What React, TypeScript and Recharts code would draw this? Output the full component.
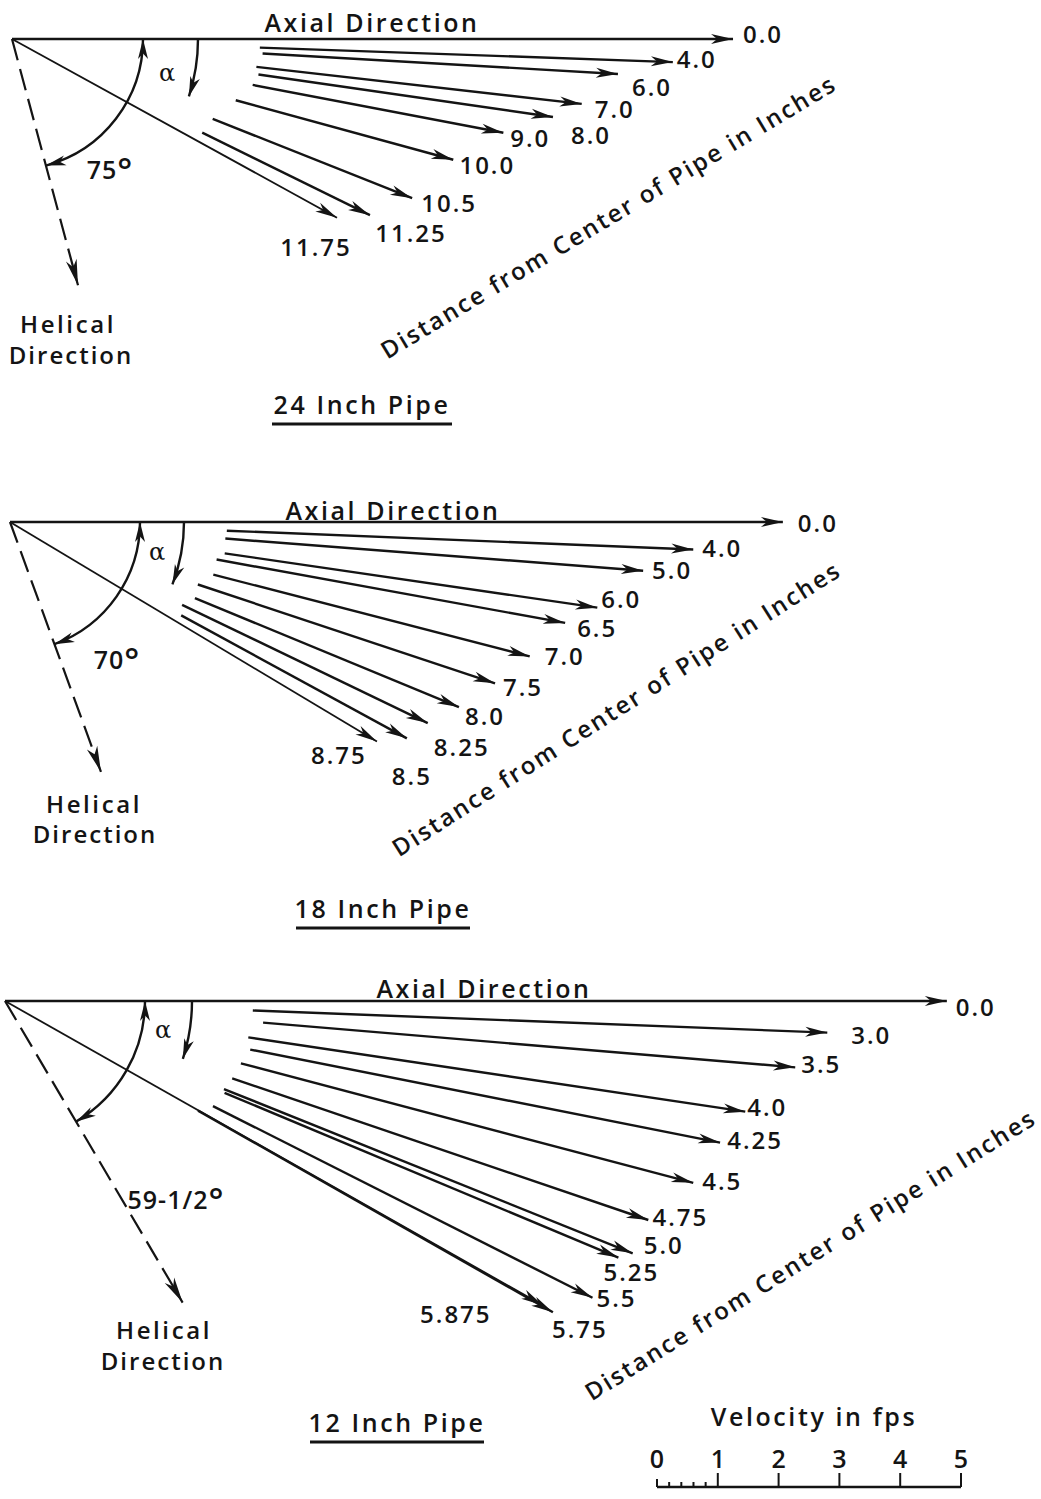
import React from 'react';
import { ComposedChart, Scatter, XAxis, YAxis, Line } from 'recharts';

// ---------------- data ----------------
// velocity in fps, alpha = angle from axial direction in degrees
const pipe24Distances = ['0.0', '4.0', '6.0', '7.0', '8.0', '9.0', '10.0', '10.5', '11.25', '11.75'];
const pipe24Velocity = [11.82, 10.84, 9.95, 9.4, 8.96, 8.2, 7.5, 7.06, 6.54, 6.08];
const pipe24Alpha = [0, 2.0, 3.3, 6.5, 8.2, 10.8, 15.3, 21.7, 26.2, 28.8];
const pipe24Helical = 75;
const pipe24HelicalLabel = '75°';

const pipe18Distances = ['0.0', '4.0', '5.0', '6.0', '6.5', '7.0', '7.5', '8.0', '8.25', '8.5', '8.75'];
const pipe18Velocity = [12.67, 11.21, 10.41, 9.73, 9.25, 8.8, 8.38, 7.96, 7.6, 7.41, 7.01];
const pipe18Alpha = [0, 2.3, 4.4, 8.3, 10.3, 14.5, 18.4, 22.4, 25.7, 28.6, 30.9];
const pipe18Helical = 70;
const pipe18HelicalLabel = '70°';

const pipe12Distances = ['0.0', '3.0', '3.5', '4.0', '4.25', '4.5', '4.75', '5.0', '5.25', '5.5', '5.75', '5.875'];
const pipe12Velocity = [15.44, 13.49, 13.0, 12.27, 11.95, 11.67, 11.14, 11.09, 10.9, 10.79, 10.33, 10.13];
const pipe12Alpha = [0, 2.2, 4.8, 8.5, 11.2, 14.8, 18.8, 21.9, 22.7, 26.8, 29.6, 29.5];
const pipe12Helical = 59.5;
const pipe12HelicalLabel = '59-1/2°';

const scaleTicks = [0, 0.2, 0.4, 0.6, 0.8, 1, 2, 3, 4, 5];
const scaleLabels = ['0', '1', '2', '3', '4', '5'];

// ---------------- layout / style ----------------
const PX_PER_FPS = 61; // page pixels per fps (from the velocity scale bar)
const W = 1041;
const H = 1499;
const INK = '#141414';
const FONT = '"Open Sans", Lato, sans-serif';
const WEIGHT = 600;
const SERIF = '"DejaVu Serif", "Liberation Serif", serif';

const layout24 = {
  origin: [12, 39],
  tailPx: [0, 248, 251, 246, 249, 245, 232, 216, 212, 0],
  labelOffset: [[30, -6], [24, -4], [34, 13], [33, 5], [38, 18], [27, 5], [34, 5], [37, 4], [41, 17], [-21, 29]],
  helicalLenPx: 255,
  arcRPx: 131,
  alphaRPx: 186,
  alphaEnd: 18,
  axialText: [372, 22],
  alphaText: [167, 73],
  angleText: [110, 170],
  helicalText: [[68, 323], [71, 354]],
  distanceText: [608, 216, -31],
  titlePos: [362, 404],
  underline: [180, 20],
  title: '24 Inch Pipe',
};
const layout18 = {
  origin: [10, 522],
  tailPx: [0, 217, 216, 217, 210, 210, 198, 200, 191, 195, 0],
  labelOffset: [[35, 0], [29, -2], [29, -1], [24, -9], [32, 5], [35, -1], [28, 3], [26, 8], [34, 23], [5, 37], [-38, 13]],
  helicalLenPx: 266,
  arcRPx: 130,
  alphaRPx: 174,
  alphaEnd: 21,
  axialText: [393, 510],
  alphaText: [157, 552],
  angleText: [117, 660],
  helicalText: [[94, 803], [95, 833]],
  distanceText: [616, 708, -32.5],
  titlePos: [383, 908],
  underline: [174, 20],
  title: '18 Inch Pipe',
};
const layout12 = {
  origin: [5, 1001],
  tailPx: [0, 248, 259, 246, 250, 244, 240, 236, 238, 233, 222, 0],
  labelOffset: [[29, 5], [44, 2], [26, -4], [22, -5], [35, -3], [29, -2], [32, -3], [31, -9], [13, 14], [24, 0], [27, 16], [-87, 8]],
  helicalLenPx: 350,
  arcRPx: 140,
  alphaRPx: 187,
  alphaEnd: 18,
  axialText: [484, 988],
  alphaText: [163, 1030],
  angleText: [176, 1200],
  helicalText: [[164, 1329], [163, 1360]],
  distanceText: [810, 1254, -32],
  titlePos: [397, 1422],
  underline: [174, 20],
  title: '12 Inch Pipe',
};

const d = (px: number) => px / PX_PER_FPS;
const rad = (deg: number) => (deg * Math.PI) / 180;

function buildPanel(distances: string[], velocity: number[], alpha: number[], helical: number, helicalLabel: string, L: any) {
  const ox = d(L.origin[0]);
  const oy = d(L.origin[1]);
  const vectors = distances.map((dist, i) => {
    const a = rad(alpha[i]);
    const t = d(L.tailPx[i]);
    const v = velocity[i];
    return {
      thin: L.tailPx[i] === 0 && i > 0,
      data: [
        { x: ox + t * Math.cos(a), y: oy + t * Math.sin(a), kind: 'tail' },
        {
          x: ox + v * Math.cos(a),
          y: oy + v * Math.sin(a),
          kind: 'tip',
          heading: alpha[i],
          label: dist,
          dx: L.labelOffset[i][0],
          dy: L.labelOffset[i][1],
        },
      ],
    };
  });
  const h = rad(helical);
  const hl = d(L.helicalLenPx);
  const helicalLine = [
    { x: ox, y: oy, kind: 'none' },
    { x: ox + hl * Math.cos(h), y: oy + hl * Math.sin(h), kind: 'arrow', heading: helical, big: true },
  ];
  const r = d(L.arcRPx);
  const bigArc = [
    { x: ox, y: oy, kind: 'none' },
    { x: ox + r, y: oy, kind: 'arrow', heading: -90 },
    { x: ox + r * Math.cos(h), y: oy + r * Math.sin(h), kind: 'arrow', heading: helical + 90 },
  ];
  const ra = d(L.alphaRPx);
  const ae = rad(L.alphaEnd);
  const alphaArc = [
    { x: ox, y: oy, kind: 'none' },
    { x: ox + ra, y: oy, kind: 'none' },
    { x: ox + ra * Math.cos(ae), y: oy + ra * Math.sin(ae), kind: 'arrow', heading: L.alphaEnd + 90 },
  ];
  const texts = [
    { x: d(L.axialText[0]), y: d(L.axialText[1]), text: 'Axial Direction', size: 25, ls: 2.6 },
    { x: d(L.alphaText[0]), y: d(L.alphaText[1]), text: 'α', size: 24, serif: true },
    { x: d(L.angleText[0]), y: d(L.angleText[1]), text: helicalLabel, size: 25, ls: 1, deg: true },
    { x: d(L.helicalText[0][0]), y: d(L.helicalText[0][1]), text: 'Helical', size: 24, ls: 2.6 },
    { x: d(L.helicalText[1][0]), y: d(L.helicalText[1][1]), text: 'Direction', size: 24, ls: 2.0 },
    {
      x: d(L.distanceText[0]),
      y: d(L.distanceText[1]),
      text: 'Distance from Center of Pipe in Inches',
      size: 24,
      ls: 2.2,
      rotate: L.distanceText[2],
    },
    { x: d(L.titlePos[0]), y: d(L.titlePos[1]), text: L.title, size: 25, ls: 2.6, underline: L.underline[0], ulDy: L.underline[1] },
  ];
  return { vectors, helicalLine, bigArc, alphaArc, texts };
}

const panels = [
  buildPanel(pipe24Distances, pipe24Velocity, pipe24Alpha, pipe24Helical, pipe24HelicalLabel, layout24),
  buildPanel(pipe18Distances, pipe18Velocity, pipe18Alpha, pipe18Helical, pipe18HelicalLabel, layout18),
  buildPanel(pipe12Distances, pipe12Velocity, pipe12Alpha, pipe12Helical, pipe12HelicalLabel, layout12),
];

const extraTexts = [{ x: d(814), y: d(1416), text: 'Velocity in fps', size: 25, ls: 2.6 }];

// ---------------- drawing helpers ----------------
function arrowPath(cx: number, cy: number, deg: number, len = 22, half = 5) {
  const r = rad(deg);
  const ux = Math.cos(r);
  const uy = Math.sin(r);
  const px = -uy;
  const py = ux;
  const bx = cx - len * ux;
  const by = cy - len * uy;
  const nx = cx - 0.72 * len * ux;
  const ny = cy - 0.72 * len * uy;
  return `M${cx},${cy} L${bx + half * px},${by + half * py} L${nx},${ny} L${bx - half * px},${by - half * py} Z`;
}

const VectorMark = (props: any) => {
  const { cx, cy, payload } = props;
  if (!payload || payload.kind !== 'tip') return <g />;
  return (
    <g>
      <path d={arrowPath(cx, cy, payload.heading)} fill={INK} />
      <text
        x={cx + payload.dx}
        y={cy + payload.dy}
        textAnchor="middle"
        dominantBaseline="central"
        fontFamily={FONT}
        fontWeight={WEIGHT}
        fontSize={24}
        letterSpacing={2}
        fill={INK}
      >
        {payload.label}
      </text>
    </g>
  );
};

const ArrowMark = (props: any) => {
  const { cx, cy, payload } = props;
  if (!payload || payload.kind !== 'arrow') return <g />;
  return <path d={arrowPath(cx, cy, payload.heading, payload.big ? 26 : 20, payload.big ? 5.5 : 5)} fill={INK} />;
};

const ArcLine = (props: any) => {
  const pts = props.points;
  if (!pts || pts.length < 3) return <g />;
  const [c, s, e] = pts;
  const r = Math.hypot(s.x - c.x, s.y - c.y);
  return <path d={`M${s.x},${s.y} A${r},${r} 0 0 1 ${e.x},${e.y}`} fill="none" stroke={INK} strokeWidth={2.4} />;
};

const TextMark = (props: any) => {
  const { cx, cy, payload: p } = props;
  if (!p) return <g />;
  const common = {
    textAnchor: 'middle' as const,
    fontFamily: p.serif ? SERIF : FONT,
    fontWeight: p.serif ? 400 : WEIGHT,
    fontSize: p.size,
    letterSpacing: p.ls || 0,
    fill: INK,
  };
  let body: any;
  if (p.deg) {
    const main = p.text.slice(0, -1);
    const degSign = p.text.slice(-1);
    body = (
      <text x={cx} y={cy + p.size * 0.36} {...common}>
        <tspan>{main}</tspan>
        <tspan fontSize={p.size * 1.4} dy={4}>
          {degSign}
        </tspan>
      </text>
    );
  } else {
    body = (
      <text
        x={cx}
        y={cy}
        transform={p.rotate ? `rotate(${p.rotate} ${cx} ${cy})` : undefined}
        dominantBaseline="central"
        {...common}
      >
        {p.text}
      </text>
    );
  }
  return (
    <g>
      {body}
      {p.underline ? (
        <line x1={cx - p.underline / 2} x2={cx + p.underline / 2} y1={cy + p.ulDy} y2={cy + p.ulDy} stroke={INK} strokeWidth={3} />
      ) : null}
    </g>
  );
};

const ScaleTick = (props: any) => {
  const { x, y, payload } = props;
  const v = payload.value;
  const isInt = Number.isInteger(v);
  const len = v === 0 ? 8 : isInt ? 14 : 5;
  return (
    <g>
      <line x1={x} x2={x} y1={y} y2={y - len} stroke={INK} strokeWidth={2} />
      {isInt ? (
        <text
          x={x}
          y={y - 29}
          textAnchor="middle"
          dominantBaseline="central"
          fontFamily={FONT}
          fontWeight={WEIGHT}
          fontSize={25}
          fill={INK}
        >
          {scaleLabels[v]}
        </text>
      ) : null}
    </g>
  );
};

const scaleData = [
  { v: 0, y: 0 },
  { v: 5, y: 0 },
];

export default function App() {
  const items: any[] = [];
  panels.forEach((p, pi) => {
    p.vectors.forEach((vec, vi) => {
      items.push(
        <Scatter
          key={`vec-${pi}-${vi}`}
          data={vec.data}
          line={{ stroke: INK, strokeWidth: vec.thin ? 1.8 : 2.4 }}
          shape={VectorMark}
          isAnimationActive={false}
        />
      );
    });
    items.push(
      <Scatter
        key={`hel-${pi}`}
        data={p.helicalLine}
        line={{ stroke: INK, strokeWidth: 2.2, strokeDasharray: '22 9' }}
        shape={ArrowMark}
        isAnimationActive={false}
      />
    );
    items.push(<Scatter key={`arc-${pi}`} data={p.bigArc} line={ArcLine} shape={ArrowMark} isAnimationActive={false} />);
    items.push(<Scatter key={`alp-${pi}`} data={p.alphaArc} line={ArcLine} shape={ArrowMark} isAnimationActive={false} />);
    items.push(<Scatter key={`txt-${pi}`} data={p.texts} shape={TextMark} isAnimationActive={false} />);
  });
  items.push(<Scatter key="txt-extra" data={extraTexts} shape={TextMark} isAnimationActive={false} />);

  return (
    <div style={{ position: 'absolute', left: 0, top: 0, width: W, height: H, background: '#fff' }}>
      <ComposedChart width={W} height={H} margin={{ top: 0, right: 0, bottom: 0, left: 0 }}>
        <XAxis type="number" dataKey="x" domain={[0, W / PX_PER_FPS]} allowDataOverflow hide />
        <YAxis type="number" dataKey="y" domain={[0, H / PX_PER_FPS]} allowDataOverflow reversed hide />
        {items}
      </ComposedChart>
      <div style={{ position: 'absolute', left: 617, top: 1400 }}>
        <ComposedChart width={384} height={96} data={scaleData} margin={{ top: 57, right: 40, bottom: 1, left: 40 }}>
          <XAxis
            type="number"
            dataKey="v"
            orientation="top"
            height={30}
            domain={[0, 5]}
            ticks={scaleTicks}
            interval={0}
            tickSize={0}
            tickMargin={0}
            tickLine={false}
            axisLine={{ stroke: INK, strokeWidth: 2.5 }}
            tick={ScaleTick}
          />
          <YAxis hide domain={[0, 1]} />
          <Line dataKey="y" stroke="none" dot={false} isAnimationActive={false} />
        </ComposedChart>
      </div>
    </div>
  );
}
